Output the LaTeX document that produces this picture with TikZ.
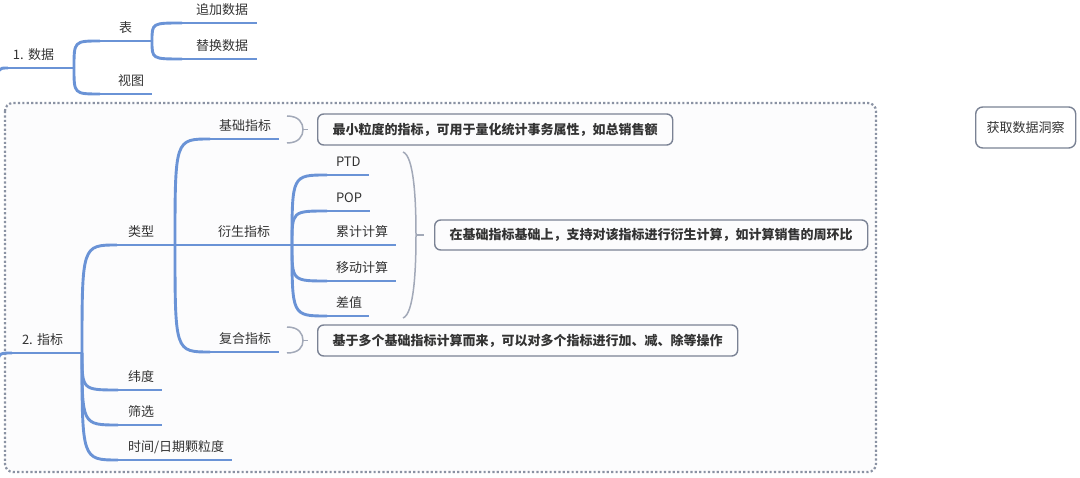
\documentclass[tikz,border=0pt]{standalone}
\usepackage{fontspec}
\setmainfont{Noto Sans CJK SC}
\definecolor{branch}{HTML}{6A93D6}
\definecolor{txt}{HTML}{333333}
\definecolor{boxc}{HTML}{7A8294}
\definecolor{bracec}{HTML}{A2A9B8}
\definecolor{dotc}{HTML}{8A92A3}
\definecolor{bgc}{HTML}{FCFCFD}
\newcommand\tpc[6]{\node[topic, text width=#3pt] (#1) at (#2,#4) {\hspace*{#5pt}#6};}
\frenchspacing
\begin{document}
\begin{tikzpicture}[x=1pt,y=-1pt,
  every node/.style={font=\fontsize{13pt}{15pt}\selectfont, text=txt},
  topic/.style={anchor=south west, inner xsep=0pt, inner ysep=8pt, outer sep=0pt,
    text height=10pt, text depth=0pt, align=left},
  branchline/.style={draw=branch, line width=2.9pt},
  summary/.style={draw=boxc, line width=1.4pt, rounded corners=6pt, inner xsep=15pt,
    inner ysep=0pt, minimum height=31pt, anchor=west,
    font=\fontsize{13pt}{15pt}\selectfont\bfseries},
  plainbox/.style={draw=boxc, line width=1.4pt, rounded corners=7pt, inner xsep=11pt,
    inner ysep=0pt, minimum height=41pt, anchor=west},
  brace/.style={draw=bracec, line width=1.5pt},
]
\useasboundingbox (0,0) rectangle (1080,478);
% frame
\draw[dotc, line width=2.2pt, dash pattern=on 2.2pt off 2.2pt, rounded corners=8pt, fill=bgc]
  (5,103) rectangle (876,472);
% topics
\tpc{d1}{8}{66}{68}{5}{1. 数据}
\tpc{biao}{100}{52}{41}{19}{表}
\tpc{zj}{182}{75}{23}{14}{追加数据}
\tpc{th}{182}{75}{59}{14}{替换数据}
\tpc{st}{100}{52}{94}{18}{视图}
\tpc{d2}{12}{70}{353}{10}{2. 指标}
\tpc{lx}{117}{58}{245}{11}{类型}
\tpc{jc}{210}{69}{139}{9}{基础指标}
\tpc{ys}{210}{82}{245}{8}{衍生指标}
\tpc{fh}{210}{69}{352}{9}{复合指标}
\tpc{wd}{118}{44}{390}{10}{纬度}
\tpc{sx}{118}{44}{425}{10}{筛选}
\tpc{sj}{118}{114}{460}{10}{时间/日期颗粒度}
\tpc{ptd}{327}{42}{175}{9}{PTD}
\tpc{pop}{327}{43}{211}{9}{POP}
\tpc{lj}{327}{69}{245}{9}{累计计算}
\tpc{yd}{327}{69}{281}{9}{移动计算}
\tpc{cz}{327}{42}{316}{9}{差值}
% underlines
\foreach \n in {d1,biao,zj,th,st,d2,lx,jc,ys,fh,wd,sx,sj,ptd,pop,lj,yd,cz}
  \draw[branchline] (\n.south west) -- (\n.south east);
% tails from off-picture
\coordinate (t1) at (-2,84);
\coordinate (t2) at (-2,370);
\draw[branchline] (t1) .. controls (t1 |- d1.south west) .. (d1.south west);
\draw[branchline] (t2) .. controls (t2 |- d2.south west) .. (d2.south west);
% parent-child connectors
\foreach \p/\c in {d1/biao, d1/st, biao/zj, biao/th, d2/lx, d2/wd, d2/sx, d2/sj,
                   lx/jc, lx/fh, ys/ptd, ys/pop, ys/yd, ys/cz}
  \draw[branchline] (\p.south east) .. controls (\p.south east |- \c.south west) .. (\c.south west);
\draw[branchline] (lx.south east) -- (ys.south west);
\draw[branchline] (ys.south east) -- (lj.south west);
% summaries
\node[summary] (s1) at (317,129.5) {最小粒度的指标，可用于量化统计事务属性，如总销售额};
\node[summary, minimum height=30pt] (s2) at (434,235) {在基础指标基础上，支持对该指标进行衍生计算，如计算销售的周环比};
\node[summary] (s3) at (317,340.5) {基于多个基础指标计算而来，可以对多个指标进行加、减、除等操作};
\node[plainbox] (ins) at (975,127.5) {获取数据洞察};
% braces
\draw[brace] (287,116) .. controls (299,116) and (303,123) .. (303,129.5)
  .. controls (303,136) and (299,143) .. (287,143);
\draw[brace] (303,129.5) -- (308,129.5);
\draw[brace] (403,152) .. controls (414,156) and (416,200) .. (416,235)
  .. controls (416,270) and (414,314) .. (403,318);
\draw[brace] (416,235) -- (424,235);
\draw[brace] (287,327) .. controls (299,327) and (303,334) .. (303,340.5)
  .. controls (303,347) and (299,353) .. (287,353);
\draw[brace] (303,340.5) -- (308,340.5);
\end{tikzpicture}
\end{document}
